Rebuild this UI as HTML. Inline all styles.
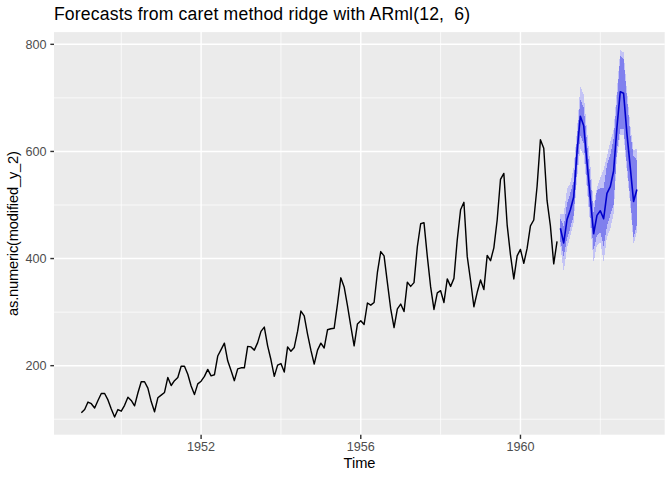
<!DOCTYPE html>
<html><head><meta charset="utf-8"><style>
html,body{margin:0;padding:0;background:#fff;}
svg{display:block;}
text{font-family:"Liberation Sans",Arial,sans-serif;}
</style></head><body>
<svg width="672" height="480" viewBox="0 0 672 480">
<rect x="0" y="0" width="672" height="480" fill="#fff"/>
<rect x="54.0" y="32.1" width="610.7" height="402.59999999999997" fill="#ebebeb"/>
<line x1="54.0" x2="664.7" y1="419.22" y2="419.22" stroke="#fff" stroke-width="0.71"/><line x1="54.0" x2="664.7" y1="312.11" y2="312.11" stroke="#fff" stroke-width="0.71"/><line x1="54.0" x2="664.7" y1="205.00" y2="205.00" stroke="#fff" stroke-width="0.71"/><line x1="54.0" x2="664.7" y1="97.89" y2="97.89" stroke="#fff" stroke-width="0.71"/><line y1="32.1" y2="434.7" x1="121.26" x2="121.26" stroke="#fff" stroke-width="0.71"/><line y1="32.1" y2="434.7" x1="280.94" x2="280.94" stroke="#fff" stroke-width="0.71"/><line y1="32.1" y2="434.7" x1="440.62" x2="440.62" stroke="#fff" stroke-width="0.71"/><line y1="32.1" y2="434.7" x1="600.30" x2="600.30" stroke="#fff" stroke-width="0.71"/><line x1="54.0" x2="664.7" y1="365.67" y2="365.67" stroke="#fff" stroke-width="1.42"/><line x1="54.0" x2="664.7" y1="258.55" y2="258.55" stroke="#fff" stroke-width="1.42"/><line x1="54.0" x2="664.7" y1="151.44" y2="151.44" stroke="#fff" stroke-width="1.42"/><line x1="54.0" x2="664.7" y1="44.33" y2="44.33" stroke="#fff" stroke-width="1.42"/><line y1="32.1" y2="434.7" x1="201.10" x2="201.10" stroke="#fff" stroke-width="1.42"/><line y1="32.1" y2="434.7" x1="360.78" x2="360.78" stroke="#fff" stroke-width="1.42"/><line y1="32.1" y2="434.7" x1="520.46" x2="520.46" stroke="#fff" stroke-width="1.42"/>
<polyline points="81.34,412.80 84.67,409.58 87.99,402.08 91.32,403.69 94.65,407.98 97.97,400.48 101.30,393.52 104.63,393.52 107.95,399.94 111.28,409.05 114.61,417.08 117.93,409.58 121.26,411.19 124.59,405.30 127.91,397.26 131.24,400.48 134.57,405.83 137.89,392.98 141.22,381.73 144.55,381.73 147.87,388.16 151.20,401.55 154.53,411.72 157.85,397.80 161.18,395.12 164.51,392.44 167.83,377.45 171.16,385.48 174.49,380.66 177.81,377.45 181.14,366.20 184.47,366.20 187.79,374.23 191.12,386.02 194.45,394.59 197.77,383.88 201.10,381.20 204.43,376.38 207.75,369.41 211.08,375.84 214.41,374.77 217.73,356.03 221.06,349.60 224.39,343.17 227.71,360.85 231.04,370.49 234.37,380.66 237.69,368.88 241.02,367.81 244.35,367.81 247.67,346.39 251.00,346.92 254.33,350.13 257.65,342.64 260.98,331.39 264.31,327.11 267.63,345.85 270.96,359.77 274.29,376.38 277.61,365.13 280.94,363.52 284.27,372.09 287.59,346.92 290.92,351.21 294.25,347.46 297.57,331.39 300.90,311.04 304.23,315.86 307.55,334.07 310.88,350.13 314.21,364.06 317.53,350.13 320.86,343.17 324.19,347.99 327.51,329.78 330.84,328.71 334.17,328.18 337.49,304.08 340.82,277.83 344.15,286.94 347.47,305.68 350.80,326.03 354.13,345.85 357.45,323.89 360.78,320.68 364.11,324.43 367.43,303.01 370.76,305.15 374.09,302.47 377.41,272.48 380.74,251.59 384.07,255.88 387.39,282.65 390.72,308.90 394.05,327.64 397.37,308.90 400.70,304.08 404.03,311.57 407.35,282.12 410.68,286.40 414.01,282.65 417.33,246.77 420.66,223.74 423.99,222.67 427.31,256.41 430.64,286.94 433.97,309.43 437.29,292.83 440.62,290.69 443.95,302.47 447.27,278.91 450.60,286.40 453.93,278.37 457.25,239.81 460.58,209.82 463.91,202.32 467.23,256.41 470.56,280.51 473.89,306.75 477.21,292.29 480.54,279.98 483.87,289.62 487.19,255.34 490.52,260.70 493.85,247.84 497.17,219.99 500.50,179.29 503.83,173.40 507.15,224.81 510.48,254.81 513.81,278.91 517.13,255.88 520.46,249.45 523.79,263.37 527.11,248.38 530.44,225.88 533.77,219.99 537.09,186.25 540.42,139.66 543.75,148.23 547.07,200.71 550.40,225.88 553.73,263.91 557.05,241.42" fill="none" stroke="#000" stroke-width="1.42" stroke-linejoin="round"/>
<polygon points="560.38,214.00 563.71,214.50 567.03,189.00 570.36,183.00 573.69,167.50 577.01,130.00 580.34,86.90 583.67,94.20 586.99,130.00 590.32,165.00 593.65,205.00 596.97,188.00 600.30,177.50 603.63,169.50 606.95,156.50 610.28,141.50 613.61,130.00 616.93,90.00 620.26,50.00 623.59,52.50 626.91,90.00 630.24,125.00 633.57,150.00 636.89,149.00 636.89,231.70 633.57,244.00 630.24,205.00 626.91,172.00 623.59,135.00 620.26,135.00 616.93,157.00 613.61,214.00 610.28,229.00 606.95,237.00 603.63,261.70 600.30,242.00 596.97,245.00 593.65,262.00 590.32,226.00 586.99,190.00 583.67,155.00 580.34,149.00 577.01,178.00 573.69,222.00 570.36,236.00 567.03,248.00 563.71,272.00 560.38,246.00" fill="#c3c3f5" shape-rendering="crispEdges"/><polygon points="560.38,219.00 563.71,226.00 567.03,203.50 570.36,193.00 573.69,181.00 577.01,137.00 580.34,100.00 583.67,107.00 586.99,142.00 590.32,178.00 593.65,213.00 596.97,190.00 600.30,188.50 603.63,188.00 606.95,165.00 610.28,155.00 613.61,138.00 616.93,100.00 620.26,56.00 623.59,59.00 626.91,97.00 630.24,134.00 633.57,156.00 636.89,160.00 636.89,225.00 633.57,238.00 630.24,198.00 626.91,165.00 623.59,129.00 620.26,129.00 616.93,150.00 613.61,205.00 610.28,215.00 606.95,226.00 603.63,246.00 600.30,232.00 596.97,235.00 593.65,250.00 590.32,216.00 586.99,180.00 583.67,143.00 580.34,135.80 577.01,170.00 573.69,215.00 570.36,228.00 567.03,238.00 563.71,257.00 560.38,241.00" fill="#8080ee" shape-rendering="crispEdges"/><polyline points="560.38,228.30 563.71,243.00 567.03,219.50 570.36,209.80 573.69,197.00 577.01,152.00 580.34,116.20 583.67,125.50 586.99,162.00 590.32,198.00 593.65,233.75 596.97,215.40 600.30,210.80 603.63,218.75 606.95,193.30 610.28,186.70 613.61,171.00 616.93,127.50 620.26,91.70 623.59,93.30 626.91,133.50 630.24,167.20 633.57,201.50 636.89,189.50" fill="none" stroke="#0000cc" stroke-width="1.6" stroke-linejoin="round"/>
<g stroke="#333" stroke-width="1.42"><line x1="50.33" x2="54.0" y1="365.67" y2="365.67"/><line x1="50.33" x2="54.0" y1="258.55" y2="258.55"/><line x1="50.33" x2="54.0" y1="151.44" y2="151.44"/><line x1="50.33" x2="54.0" y1="44.33" y2="44.33"/><line y1="434.7" y2="438.90" x1="201.10" x2="201.10"/><line y1="434.7" y2="438.90" x1="360.78" x2="360.78"/><line y1="434.7" y2="438.90" x1="520.46" x2="520.46"/></g>
<g fill="#4d4d4d" font-size="12.6" text-anchor="end"><text x="46.5" y="370.07">200</text><text x="46.5" y="262.95">400</text><text x="46.5" y="155.84">600</text><text x="46.5" y="48.73">800</text></g>
<g fill="#4d4d4d" font-size="12.6" text-anchor="middle"><text x="201.10" y="451">1952</text><text x="360.78" y="451">1956</text><text x="520.46" y="451">1960</text></g>
<text x="359.5" y="468.4" font-size="14.67" text-anchor="middle" fill="#000">Time</text>
<text transform="translate(17.9,233.5) rotate(-90)" font-size="14.67" text-anchor="middle" textLength="165" lengthAdjust="spacing" fill="#000">as.numeric(modified_y_2)</text>
<text x="53.9" y="19.7" font-size="17.6" fill="#000" textLength="416.2" lengthAdjust="spacing" xml:space="preserve">Forecasts from caret method ridge with ARml(12,  6)</text>
</svg>
</body></html>
